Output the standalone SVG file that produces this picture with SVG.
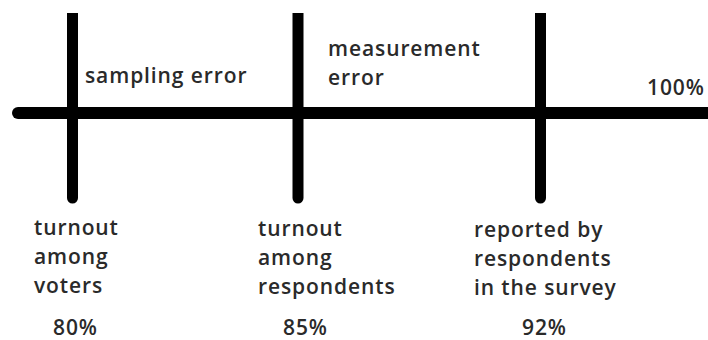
<svg xmlns="http://www.w3.org/2000/svg" width="708" height="340" viewBox="0 0 708 340">
<style>
  .t { font-family: "Open Sans", "Noto Sans", sans-serif; font-size: 21px; font-weight: 600; fill: #2a2a2a; letter-spacing: 0.9px; }
  .bar { fill: #000; }
</style>
<rect width="708" height="340" fill="#fff"/>
<g id="connectors">
  <line x1="18" y1="113" x2="708" y2="113" stroke="#000" stroke-width="12" stroke-linecap="round"/>
</g>
<g id="tick-voters">
  <path class="bar" d="M67 13 H78 V198 A5.5 5.5 0 0 1 67 198 Z"/>
  <text class="t" x="34" y="235">turnout</text>
  <text class="t" x="34" y="264">among</text>
  <text class="t" x="34" y="293">voters</text>
  <text class="t" x="53" y="335">80%</text>
</g>
<g id="tick-respondents">
  <path class="bar" d="M292.5 13 H303.5 V198 A5.5 5.5 0 0 1 292.5 198 Z"/>
  <text class="t" x="258" y="236">turnout</text>
  <text class="t" x="258" y="265">among</text>
  <text class="t" x="258" y="294">respondents</text>
  <text class="t" x="283" y="335">85%</text>
</g>
<g id="tick-reported">
  <path class="bar" d="M535 13 H546 V198 A5.5 5.5 0 0 1 535 198 Z"/>
  <text class="t" x="474" y="237">reported by</text>
  <text class="t" x="474" y="266">respondents</text>
  <text class="t" x="474" y="295">in the survey</text>
  <text class="t" x="522" y="335">92%</text>
</g>
<g id="label-sampling">
  <text class="t" x="85" y="83">sampling error</text>
</g>
<g id="label-measurement">
  <text class="t" x="328" y="56">measurement</text>
  <text class="t" x="328" y="85">error</text>
</g>
<g id="label-100">
  <text class="t" x="647" y="95">100%</text>
</g>
</svg>
